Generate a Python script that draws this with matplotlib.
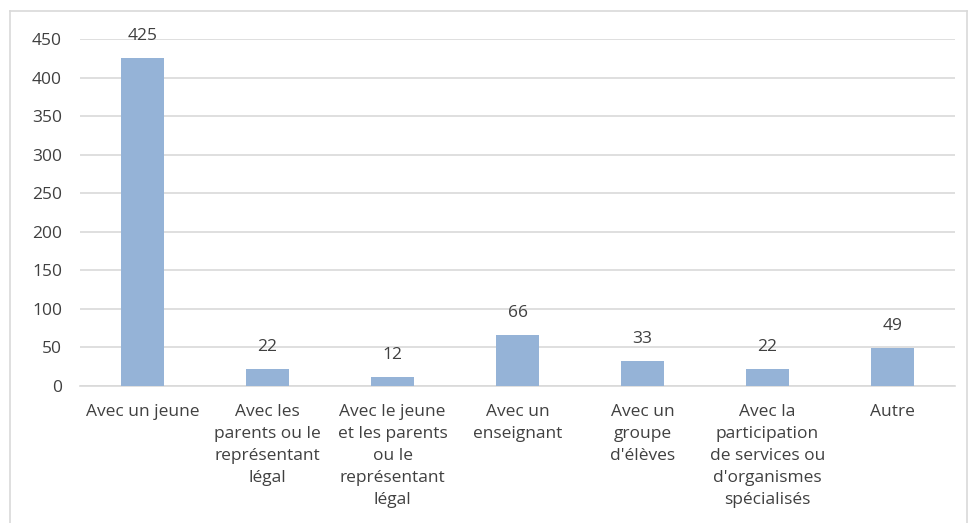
import matplotlib
matplotlib.use("Agg")
import matplotlib.pyplot as plt
from matplotlib.lines import Line2D

categories = ["Avec un jeune",
              "Avec les\nparents ou le\nreprésentant\nlégal",
              "Avec le jeune\net les parents\nou le\nreprésentant\nlégal",
              "Avec un\nenseignant",
              "Avec un\ngroupe\nd'élèves",
              "Avec la\nparticipation\nde services ou\nd'organismes\nspécialisés",
              "Autre"]
values = [425, 22, 12, 66, 33, 22, 49]
yticks = [0, 50, 100, 150, 200, 250, 300, 350, 400, 450]

W, H = 971, 523
plt.rcParams['font.family'] = ['Open Sans', 'DejaVu Sans']
fig = plt.figure(figsize=(W/100, H/100), dpi=100)
ax = fig.add_axes([80/W, (H-386)/H, 875/W, (386-39)/H])

fs = 12.5
text_color = "#404040"
grid_color = "#D9D9D9"
x = list(range(len(categories)))
ax.bar(x, values, width=0.35, color="#95B3D7", zorder=3)
for xi, v in zip(x, values):
    ax.annotate(str(v), (xi, v), xytext=(0, 22), textcoords="offset pixels",
                ha="center", va="center", fontsize=fs, color=text_color)

ax.set_xlim(-0.5, len(categories) - 0.5)
ax.set_ylim(0, 450)
ax.set_yticks(yticks)
ax.set_yticklabels([str(t) for t in yticks], fontsize=fs, color=text_color)
ax.set_xticks(x)
ax.set_xticklabels(categories, fontsize=fs, color=text_color, linespacing=1.49, va="top")
ax.tick_params(axis="both", length=0)
ax.tick_params(axis="y", pad=13)
ax.tick_params(axis="x", pad=13)
ax.yaxis.grid(True, color=grid_color, linewidth=1.2, zorder=0)
for s in ["top", "right", "left"]:
    ax.spines[s].set_visible(False)
ax.spines["bottom"].set_color(grid_color)
ax.spines["bottom"].set_linewidth(1.2)

# outer chart frame
fc = "#D9D9D9"
fig.add_artist(Line2D([9.5/W, 9.5/W], [0, 1 - 10.5/H], transform=fig.transFigure, color=fc, lw=1.2))
fig.add_artist(Line2D([9.5/W, 966.5/W], [1 - 10.5/H, 1 - 10.5/H], transform=fig.transFigure, color=fc, lw=1.2))
fig.add_artist(Line2D([966.5/W, 966.5/W], [0, 1 - 10.5/H], transform=fig.transFigure, color=fc, lw=1.2))

fig.savefig("out.png", dpi=100)
